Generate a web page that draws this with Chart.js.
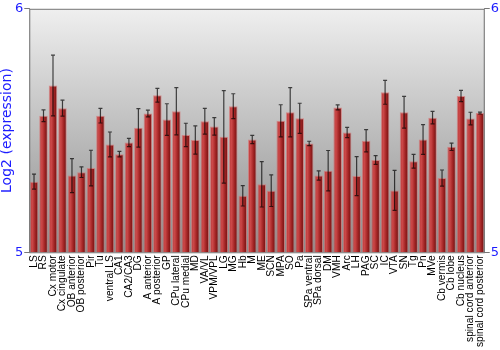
<!DOCTYPE html>
<html>
<head>
<meta charset="utf-8">
<script src="https://cdn.jsdelivr.net/npm/chart.js@4/dist/chart.umd.min.js"></script>
<style>
  html, body { margin: 0; padding: 0; background: #fff; }
</style>
</head>
<body>
<canvas id="expr" width="500" height="350"></canvas>
<script>
var regions = ["LS", "RS", "Cx motor", "Cx cingulate", "OB anterior", "OB posterior", "Pir", "Tu",
  "ventral LS", "CA1", "CA2/CA3", "DG", "A anterior", "A posterior", "GP", "CPu lateral",
  "CPu medial", "MD", "VA/VL", "VPM/VPL", "LG", "MG", "Hb", "M", "ME", "SCN", "MPA", "SO",
  "Pa", "SPa ventral", "SPa dorsal", "DM", "VMH", "Arc", "LH", "PAG", "SC", "IC", "VTA", "SN",
  "Tg", "Pn", "MVe", "Cb vermis", "Cb lobe", "Cb nucleus", "spinal cord anterior", "spinal cord posterior"];

var expr = [5.29, 5.561, 5.685, 5.592, 5.315, 5.329, 5.346, 5.561,
  5.443, 5.403, 5.451, 5.511, 5.570, 5.645, 5.545, 5.579,
  5.482, 5.461, 5.538, 5.517, 5.474, 5.600, 5.232, 5.463, 5.279, 5.253, 5.540, 5.575,
  5.550, 5.447, 5.315, 5.335, 5.595, 5.492, 5.313, 5.458, 5.379, 5.657, 5.254, 5.575,
  5.374, 5.463, 5.553, 5.305, 5.433, 5.642, 5.549, 5.572];

var sem = [0.031, 0.024, 0.125, 0.033, 0.070, 0.022, 0.073, 0.030,
  0.051, 0.011, 0.017, 0.079, 0.014, 0.028, 0.065, 0.097,
  0.048, 0.058, 0.053, 0.036, 0.190, 0.051, 0.042, 0.017, 0.093, 0.065, 0.066, 0.101,
  0.062, 0.009, 0.019, 0.083, 0.010, 0.021, 0.080, 0.046, 0.018, 0.049, 0.082, 0.065,
  0.028, 0.061, 0.026, 0.033, 0.015, 0.023, 0.026, 0.004];

var yTicks = [5, 6];
var blue = "#1c1cff";

// gray backdrop behind the plot, error bars and frame on top
var backdrop = {
  id: "backdrop",
  beforeDatasetsDraw: function (chart) {
    var a = chart.chartArea, ctx = chart.ctx;
    var g = ctx.createLinearGradient(0, a.top, 0, a.bottom);
    g.addColorStop(0, "#efefef");
    g.addColorStop(1, "#8c8c8c");
    ctx.save();
    ctx.fillStyle = g;
    ctx.fillRect(a.left, a.top, a.right - a.left, a.bottom - a.top);
    ctx.restore();
  },
  afterDatasetsDraw: function (chart) {
    var a = chart.chartArea, ctx = chart.ctx;
    var y = chart.scales.y;
    var meta = chart.getDatasetMeta(0);
    ctx.save();
    ctx.strokeStyle = "rgba(0,0,0,0.7)";
    ctx.lineWidth = 1.2;
    meta.data.forEach(function (bar, i) {
      var top = y.getPixelForValue(expr[i] + sem[i]);
      var bot = y.getPixelForValue(expr[i] - sem[i]);
      ctx.beginPath();
      ctx.moveTo(bar.x, top); ctx.lineTo(bar.x, bot);
      ctx.moveTo(bar.x - 2, top); ctx.lineTo(bar.x + 2, top);
      ctx.moveTo(bar.x - 2, bot); ctx.lineTo(bar.x + 2, bot);
      ctx.stroke();
    });
    ctx.strokeStyle = "#777";
    ctx.lineWidth = 1;
    ctx.strokeRect(a.left + 0.5, a.top + 0.5, a.right - a.left - 1, a.bottom - a.top);
    ctx.restore();
  }
};

function barFill(c) {
  var bar = c.chart.getDatasetMeta(0).data[c.dataIndex];
  if (!bar || !bar.width || isNaN(bar.x)) return "#b53535";
  var g = c.chart.ctx.createLinearGradient(bar.x - bar.width / 2, 0, bar.x + bar.width / 2, 0);
  g.addColorStop(0, "#b83a3a");
  g.addColorStop(0.3, "#cc4848");
  g.addColorStop(0.65, "#a02323");
  g.addColorStop(1, "#6a0f0f");
  return g;
}

var yAxis = function (pos, withTitle) {
  return {
    position: pos,
    min: 5,
    max: 6,
    afterBuildTicks: function (s) { s.ticks = yTicks.map(function (v) { return { value: v }; }); },
    ticks: { color: blue, font: { family: "DejaVu Sans", size: 13 }, padding: 1 },
    grid: { drawOnChartArea: false, tickLength: 5, color: "#777" },
    border: { color: "#777" },
    title: {
      display: withTitle,
      text: "Log2 (expression)",
      color: blue,
      font: { family: "DejaVu Sans", size: 14, lineHeight: 1 },
      padding: 0
    }
  };
};

var chart = new Chart("expr", {
  type: "bar",
  data: {
    labels: regions,
    datasets: [{
      data: expr,
      backgroundColor: barFill,
      borderColor: "rgba(215,110,110,0.7)",
      borderWidth: 1,
      categoryPercentage: 1,
      barPercentage: 0.9
    }]
  },
  options: {
    responsive: false,
    animation: false,
    layout: { padding: { top: 4, right: 0, left: 0, bottom: 0 } },
    plugins: { legend: { display: false }, tooltip: { enabled: false } },
    scales: {
      x: {
        grid: { display: false, drawTicks: false, tickLength: 0 },
        border: { display: false },
        ticks: {
          autoSkip: false,
          maxRotation: 90,
          minRotation: 90,
          color: "#000",
          padding: 3,
          font: { family: "Liberation Sans", size: 10.2 }
        }
      },
      y: yAxis("left", true),
      y2: yAxis("right", false)
    }
  },
  plugins: [backdrop]
});
chart.update("none");
</script>
</body>
</html>
